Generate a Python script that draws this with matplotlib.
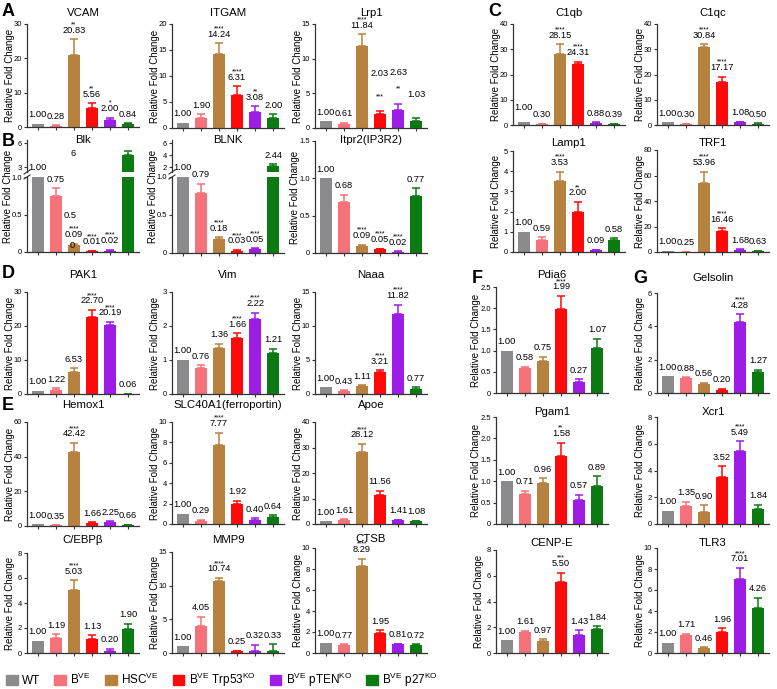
import numpy as np
import matplotlib.pyplot as plt
from matplotlib.patches import Patch
from matplotlib.lines import Line2D

plt.rcParams['font.family'] = ['Liberation Sans', 'DejaVu Sans']
plt.rcParams['mathtext.fontset'] = 'custom'
plt.rcParams['mathtext.rm'] = 'Liberation Sans'
plt.rcParams['mathtext.it'] = 'Liberation Sans:italic'
plt.rcParams['mathtext.bf'] = 'Liberation Sans:bold'

groups = ['WT', r'B$^{\rm VE}$', r'HSC$^{\rm VE}$', r'B$^{\rm VE}$ Trp53$^{\rm KO}$',
          r'B$^{\rm VE}$ pTEN$^{\rm KO}$', r'B$^{\rm VE}$ p27$^{\rm KO}$']
colors = ['#8b8b8d', '#f5727a', '#b7823f', '#ff0a0a', '#9d1ce6', '#0c7a12']

genes = ['VCAM', 'ITGAM', 'Lrp1', 'C1qb', 'C1qc',
         'Blk', 'BLNK', 'Itpr2(IP3R2)', 'Lamp1', 'TRF1',
         'PAK1', 'Vim', 'Naaa',
         'Hemox1', 'SLC40A1(ferroportin)', 'Apoe',
         'C/EBPβ', 'MMP9', 'CTSB',
         'Pdia6', 'Pgam1', 'CENP-E',
         'Gelsolin', 'Xcr1', 'TLR3']

means = [
    [1.00, 0.28, 20.83, 5.56, 2.00, 0.84],
    [1.00, 1.90, 14.24, 6.31, 3.08, 2.00],
    [1.00, 0.61, 11.84, 2.03, 2.63, 1.03],
    [1.00, 0.30, 28.15, 24.31, 0.88, 0.39],
    [1.00, 0.30, 30.84, 17.17, 1.08, 0.50],
    [1.00, 0.75, 0.09, 0.01, 0.02, 4.50],
    [1.00, 0.79, 0.18, 0.03, 0.05, 2.20],
    [1.00, 0.68, 0.09, 0.05, 0.02, 0.77],
    [1.00, 0.59, 3.53, 2.00, 0.09, 0.58],
    [1.00, 0.25, 53.96, 16.46, 1.68, 0.63],
    [1.00, 1.22, 6.53, 22.70, 20.19, 0.06],
    [1.00, 0.76, 1.36, 1.66, 2.22, 1.21],
    [1.00, 0.43, 1.11, 3.21, 11.82, 0.77],
    [1.00, 0.35, 42.42, 1.66, 2.25, 0.66],
    [1.00, 0.29, 7.77, 1.92, 0.40, 0.64],
    [1.00, 1.61, 28.12, 11.56, 1.41, 1.08],
    [1.00, 1.19, 5.03, 1.13, 0.20, 1.90],
    [1.00, 4.05, 10.74, 0.25, 0.32, 0.33],
    [1.00, 0.77, 8.29, 1.95, 0.81, 0.72],
    [1.00, 0.58, 0.75, 1.99, 0.27, 1.07],
    [1.00, 0.71, 0.96, 1.58, 0.57, 0.89],
    [1.00, 1.61, 0.97, 5.50, 1.43, 1.84],
    [1.00, 0.88, 0.56, 0.20, 4.28, 1.27],
    [1.00, 1.35, 0.90, 3.52, 5.49, 1.10],
    [1.00, 1.71, 0.46, 1.96, 7.01, 4.26],
]

sems = [
    [0, 0.20, 4.70, 1.30, 0.70, 0.30],
    [0, 0.70, 2.10, 1.70, 1.10, 0.60],
    [0, 0.15, 1.70, 0.35, 0.90, 0.35],
    [0, 0.10, 3.80, 0.80, 0.20, 0.10],
    [0, 0.10, 1.20, 2.00, 0.20, 0.10],
    [0, 0.10, 0.02, 0.005, 0.01, 0.45],
    [0, 0.12, 0.03, 0.01, 0.01, 0.25],
    [0, 0.10, 0.02, 0.01, 0.005, 0.10],
    [0, 0.15, 0.45, 0.48, 0.03, 0.10],
    [0, 0.10, 9.00, 2.00, 0.50, 0.30],
    [0, 0.40, 1.10, 2.00, 1.00, 0.05],
    [0, 0.08, 0.11, 0.12, 0.17, 0.12],
    [0, 0.15, 0.20, 0.30, 1.30, 0.20],
    [0, 0.10, 5.50, 0.50, 0.60, 0.20],
    [0, 0.12, 1.20, 0.35, 0.15, 0.20],
    [0, 0.30, 3.30, 1.50, 0.30, 0.20],
    [0, 0.30, 0.80, 0.30, 0.15, 0.45],
    [0, 1.30, 0.40, 0.10, 0.90, 1.00],
    [0, 0.05, 0.70, 0.20, 0.05, 0.10],
    [0, 0.04, 0.11, 0.30, 0.05, 0.21],
    [0, 0.07, 0.11, 0.32, 0.11, 0.22],
    [0, 0.12, 0.10, 0.75, 0.35, 0.22],
    [0, 0.07, 0.06, 0.04, 0.45, 0.12],
    [0, 0.30, 0.50, 0.80, 0.70, 0.35],
    [0, 0.12, 0.08, 0.40, 1.10, 1.00],
]

stars = [
    ['', '', '**', '**', '*', ''],
    ['', '', '****', '****', '**', ''],
    ['', '', '****', '***', '**', ''],
    ['', '', '****', '****', '', ''],
    ['', '', '****', '****', '', ''],
    ['', '', '****', '****', '****', ''],
    ['', '', '****', '****', '****', ''],
    ['', '', '****', '****', '****', ''],
    ['', '', '****', '**', '', ''],
    ['', '', '****', '****', '', ''],
    ['', '', '', '****', '****', ''],
    ['', '', '', '****', '****', ''],
    ['', '', '', '****', '****', ''],
    ['', '', '****', '', '', ''],
    ['', '', '****', '', '', ''],
    ['', '', '****', '', '', ''],
    ['', '', '****', '', '', ''],
    ['', '', '****', '', '', ''],
    ['', '', '****', '', '', ''],
    ['', '', '', '****', '', ''],
    ['', '', '', '**', '', ''],
    ['', '', '', '***', '', ''],
    ['', '', '', '', '****', ''],
    ['', '', '', '', '****', ''],
    ['', '', '', '', '****', ''],
]

ymax = [30, 20, 15, 40, 40, None, None, 1.5, 5, 80,
        30, 3, 15, 60, 10, 40, 8, 15, 10, 2.5, 2.5, 8, 6, 8, 10]
ystep = [10, 5, 5, 10, 10, None, None, 0.5, 1, 20,
         10, 1, 5, 20, 2, 10, 2, 5, 2, 0.5, 0.5, 2, 2, 2, 2]

# labels printed differently from the drawn bar
label_text = {('Blk', 5): '', ('BLNK', 5): '2.44', ('Xcr1', 5): '1.84'}

# broken y axes: upper part limits and ticks
broken_upper = {'Blk': ((2.375, 6.375), [3, 6]), 'BLNK': ((1.17, 6.5), [2, 4, 6])}

W, H = 777, 689
AW = 112
# axis left, y of top, y of zero, y of title (pixels)
layout = {
    'VCAM': (27, 24, 127, 13), 'ITGAM': (172, 24, 128, 13), 'Lrp1': (315, 24, 128, 13),
    'C1qb': (513, 24, 125, 13), 'C1qc': (657, 24, 125, 13),
    'Blk': (27, 140, 252, 140), 'BLNK': (172, 140, 253, 140), 'Itpr2(IP3R2)': (315, 141, 253, 140),
    'Lamp1': (513, 151, 252, 143), 'TRF1': (657, 150, 252, 143),
    'PAK1': (27, 292, 394, 275), 'Vim': (172, 292, 394, 275), 'Naaa': (315, 292, 394, 275),
    'Hemox1': (27, 422, 526, 405), 'SLC40A1(ferroportin)': (172, 422, 524, 405), 'Apoe': (315, 422, 524, 405),
    'C/EBPβ': (27, 553, 653, 540), 'MMP9': (172, 552, 653, 540), 'CTSB': (315, 548, 653, 539),
    'Pdia6': (496, 287, 393, 275), 'Pgam1': (496, 417, 524, 412), 'CENP-E': (496, 550, 653, 543),
    'Gelsolin': (657, 293, 393, 278), 'Xcr1': (657, 417, 524, 412), 'TLR3': (657, 548, 653, 543),
}

# extra lift (points) for value labels that sit higher in the figure
label_lift = {('Lrp1', 3): 21, ('Lrp1', 4): 16, ('Lrp1', 5): 11, ('C1qb', 0): 4}

fig = plt.figure(figsize=(W / 100, H / 100), dpi=100)


def add_ax(x, top, bottom):
    return fig.add_axes([x / W, 1 - bottom / H, AW / W, (bottom - top) / H])


def style(ax):
    ax.spines['top'].set_visible(False)
    ax.spines['right'].set_visible(False)
    for s in ['left', 'bottom']:
        ax.spines[s].set_linewidth(0.9)
        ax.spines[s].set_color('#333333')
    ax.tick_params(length=2.5, width=0.8, labelsize=5.5, pad=1, color='#333333')
    ax.set_xticks(range(6))
    ax.set_xticklabels([])
    ax.set_xlim(-0.6, 5.6)


def draw_bars(ax, vals, errs):
    x = np.arange(6)
    ax.bar(x, vals, width=0.68, color=colors, zorder=2)
    for i in range(6):
        if errs[i] > 0:
            ax.errorbar(x[i], vals[i], yerr=[[0], [errs[i]]], color=colors[i],
                        capsize=3, elinewidth=1.1, capthick=1.1, zorder=1)


def put_label(ax, i, y, text, star, lift=0):
    ax.annotate(text, (i, y), xytext=(0, 6.5 + lift), textcoords='offset points',
                ha='center', va='center', fontsize=6.7, annotation_clip=False)
    if star:
        ax.annotate(star, (i, y), xytext=(0, 9.3), textcoords='offset points',
                    ha='center', va='baseline', fontsize=5, annotation_clip=False)


for k, g in enumerate(genes):
    x0, top, bot, ty = layout[g]
    vals, errs = means[k], sems[k]
    fig.text((x0 + AW / 2) / W, 1 - ty / H, g, ha='center', va='center', fontsize=8.2)
    if g in broken_upper:
        lim, ticks = broken_upper[g]
        up = add_ax(x0, top, top + 32)
        lo = add_ax(x0, top + 37, bot)
        for ax in (up, lo):
            style(ax)
            draw_bars(ax, vals, errs)
        up.spines['bottom'].set_visible(False)
        up.tick_params(axis='x', bottom=False)
        up.set_ylim(*lim)
        up.set_yticks(ticks)
        lo.set_ylim(0, 1.0)
        lo.set_yticks([0, 0.5, 1.0])
        lo.set_yticklabels(['0', '0.5', '1.0'])
        for yy in (top + 32, top + 37):
            fig.add_artist(Line2D([(x0 - 3) / W, (x0 + 3) / W],
                                  [1 - (yy + 2) / H, 1 - (yy - 2) / H],
                                  color='#333333', lw=0.8))
        fig.text((x0 - 19) / W, 1 - (top + bot) / 2 / H, 'Relative Fold Change',
                 rotation=90, ha='center', va='center', fontsize=7)
        for i in range(6):
            txt = label_text.get((g, i), '%.2f' % vals[i])
            ax = lo if vals[i] <= 1 else up
            put_label(ax, i, vals[i] + errs[i], txt, stars[k][i])
        continue
    ax = add_ax(x0, top, bot)
    style(ax)
    draw_bars(ax, vals, errs)
    ax.set_ylim(0, ymax[k])
    ticks = np.arange(0, ymax[k] + ystep[k] / 2, ystep[k])
    ax.set_yticks(ticks)
    if ystep[k] < 1:
        ax.set_yticklabels(['0' if t == 0 else '%.1f' % t for t in ticks])
    else:
        ax.set_yticklabels(['%d' % t for t in ticks])
    ax.set_ylabel('Relative Fold Change', fontsize=7)
    ax.yaxis.set_label_coords((-15 if ystep[k] < 1 else -12) / AW, 0.5)
    for i in range(6):
        txt = label_text.get((g, i), '%.2f' % vals[i])
        put_label(ax, i, vals[i] + errs[i], txt, stars[k][i], label_lift.get((g, i), 0))

# stray labels printed in the Blk panel
for txt, px, py in [('6', 73, 153), ('0.5', 70, 215), ('0', 72, 245)]:
    fig.text(px / W, 1 - py / H, txt, ha='center', va='center', fontsize=6.7)

for letter, px, py in [('A', 2, 11), ('B', 2, 142), ('C', 488, 12), ('D', 2, 274),
                       ('E', 2, 405), ('F', 472, 279), ('G', 633, 279)]:
    fig.text(px / W, 1 - py / H, letter, ha='left', va='center', fontsize=13, fontweight='bold')

handles = [Patch(color=c) for c in colors]
fig.legend(handles, groups, loc='center left', bbox_to_anchor=(6 / W, 1 - 680 / H),
           ncol=6, frameon=False, fontsize=8.5, handlelength=1.0, handleheight=1.0,
           handletextpad=0.35, columnspacing=1.2, borderpad=0, borderaxespad=0)

fig.savefig('out.png', dpi=100)
